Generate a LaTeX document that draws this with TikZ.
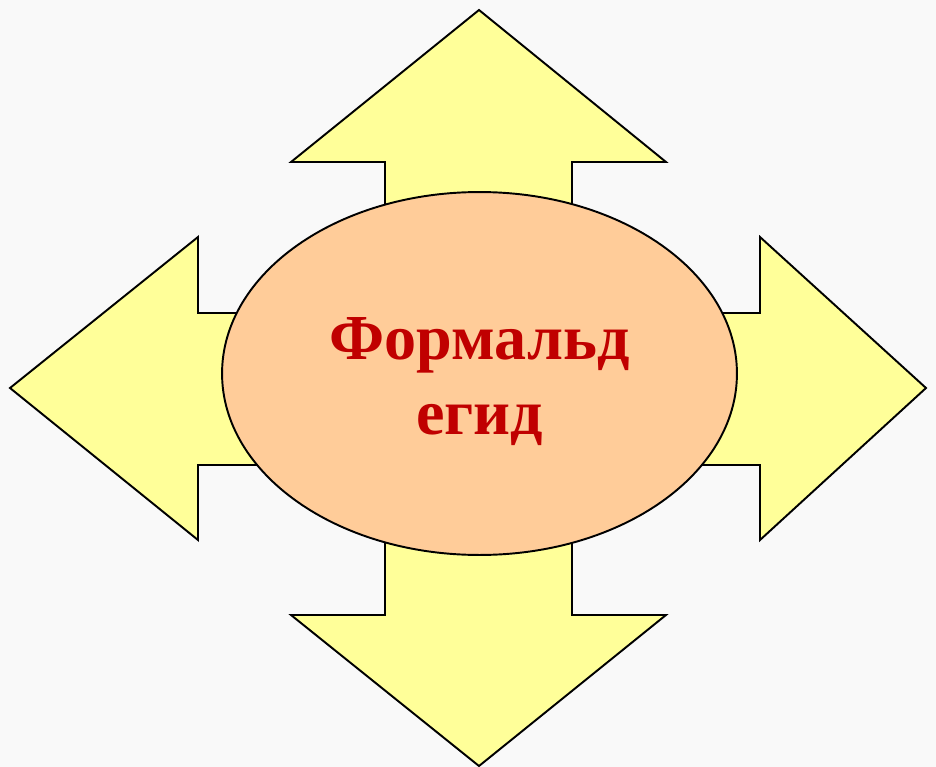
\documentclass[tikz,border=0pt]{standalone}
\usepackage{fontspec}
\setmainfont{Liberation Serif}
\definecolor{bgwhite}{RGB}{249,249,249}
\definecolor{arrowyellow}{RGB}{255,255,153}
\definecolor{ovalpeach}{RGB}{255,204,153}
\definecolor{textred}{RGB}{192,0,0}
\usetikzlibrary{shapes.geometric}

\begin{document}
\begin{tikzpicture}[x=0.02cm,y=-0.02cm,
  bigarrow/.style={draw=black,fill=arrowyellow,line width=1.1pt,line join=miter},
  centeroval/.style={ellipse,draw=black,fill=ovalpeach,line width=1.1pt,
    minimum width=10.3cm,minimum height=7.26cm,inner sep=0pt},
  ovaltext/.style={align=center,inner sep=0pt,
    font=\fontsize{36.5}{42.7}\selectfont\bfseries,text=textred}
]
  % Background
  \fill[bgwhite] (0,0) rectangle (936,767);
  \useasboundingbox (0,0) rectangle (936,767);
  % Up arrow
  \draw[bigarrow] (385,373) -- (385,162) -- (291,162) -- (479,10) -- (666,162)
    -- (572,162) -- (572,373) -- cycle;
  % Down arrow
  \draw[bigarrow] (385,373) -- (385,615) -- (291,615) -- (479,766) -- (666,615)
    -- (572,615) -- (572,373) -- cycle;
  % Left arrow
  \draw[bigarrow] (479,313) -- (198,313) -- (198,237) -- (10,388) -- (198,540)
    -- (198,465) -- (479,465) -- cycle;
  % Right arrow
  \draw[bigarrow] (479,313) -- (760,313) -- (760,237) -- (926,388) -- (760,540)
    -- (760,465) -- (479,465) -- cycle;
  % Center oval
  \node[centeroval] (formal) at (479.5,373.5) {};
  \node[ovaltext] (formaltext) at ([yshift=-0.17cm]formal.center) {Формальд\\егид};
\end{tikzpicture}
\end{document}
